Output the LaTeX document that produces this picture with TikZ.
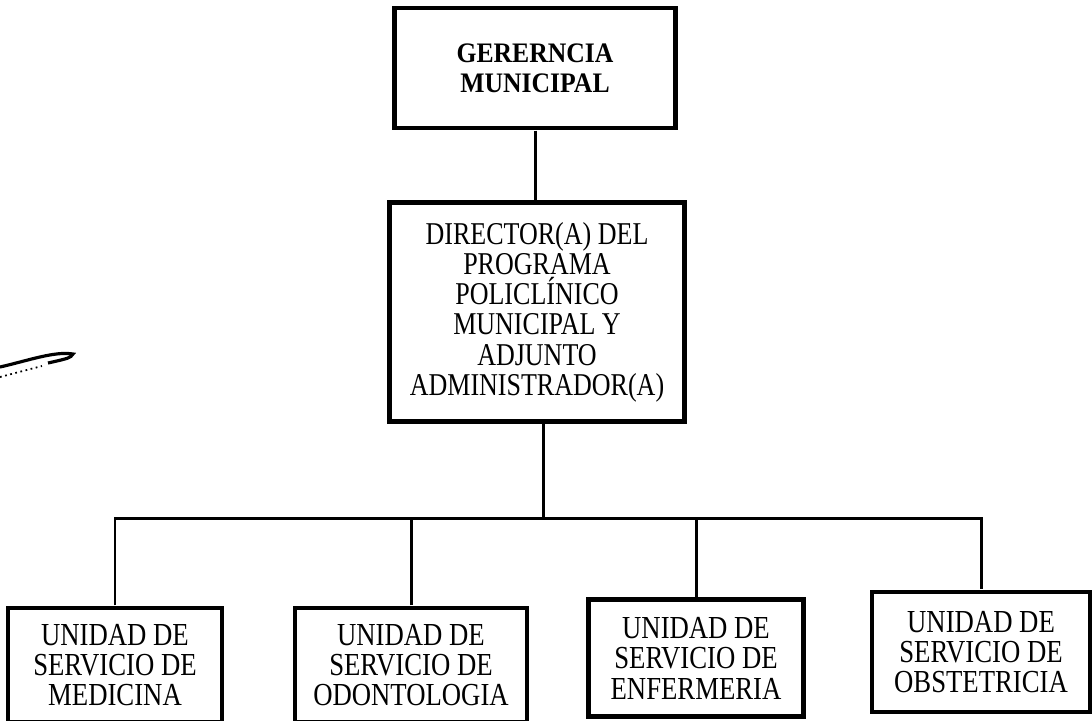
\documentclass[tikz,border=0pt]{standalone}
\usepackage{fontspec}
\setmainfont{Liberation Serif}

\tikzstyle{box} = [draw, line width=1.3pt, align=center, inner sep=0pt]
\tikzstyle{head} = [box, yscale=1.1, font=\bfseries\fontsize{7.3}{7.7}\selectfont]
\tikzstyle{chief} = [box, yscale=1.22, font=\fontsize{7.4}{7.05}\selectfont]
\tikzstyle{unit} = [box, yscale=1.2, font=\fontsize{7.6}{7.2}\selectfont]
\tikzstyle{link} = [draw, line width=0.85pt]

\begin{document}
\begin{tikzpicture}[x=0.01cm, y=-0.01cm]

	\useasboundingbox (0,0) rectangle (1092,720);

	% Top
	\node[head, minimum width=2.81cm, minimum height=1.09cm] at (535,68) (gerencia) {GERERNCIA\\MUNICIPAL};
	\node[chief, minimum width=2.95cm, minimum height=1.795cm] at (537,312) (director) {DIRECTOR(A) DEL\\PROGRAMA\\POLICLÍNICO\\MUNICIPAL Y\\ADJUNTO\\ADMINISTRADOR(A)};
	\path[link] (gerencia.south) -- (gerencia.south |- director.north);

	% Units
	\node[unit, minimum width=2.14cm, minimum height=0.95cm] at (115,665) (medicina) {UNIDAD DE\\SERVICIO DE\\MEDICINA};
	\node[unit, minimum width=2.32cm, minimum height=0.95cm] at (411,665) (odonto) {UNIDAD DE\\SERVICIO DE\\ODONTOLOGIA};
	\node[unit, minimum width=2.15cm, minimum height=0.975cm] at (696,658) (enfer) {UNIDAD DE\\SERVICIO DE\\ENFERMERIA};
	\node[unit, minimum width=2.18cm, minimum height=1.0cm] at (981,652) (obste) {UNIDAD DE\\SERVICIO DE\\OBSTETRICIA};

	% Bus
	\coordinate (bus) at (543,518);
	\path[link] (director.south -| bus) -- (bus);
	\path[link] (medicina.north) |- (bus) -| (obste.north);
	\path[link] (odonto.north) -- (odonto.north |- bus);
	\path[link] (enfer.north) -- (enfer.north |- bus);

	% Pen mark
	\draw[line width=0.9pt] (0,367) .. controls (30,360) and (55,351) .. (73,354) .. controls (70,358) .. (48,363);
	\draw[line width=0.5pt, densely dotted] (0,377) -- (42,366);

\end{tikzpicture}
\end{document}
